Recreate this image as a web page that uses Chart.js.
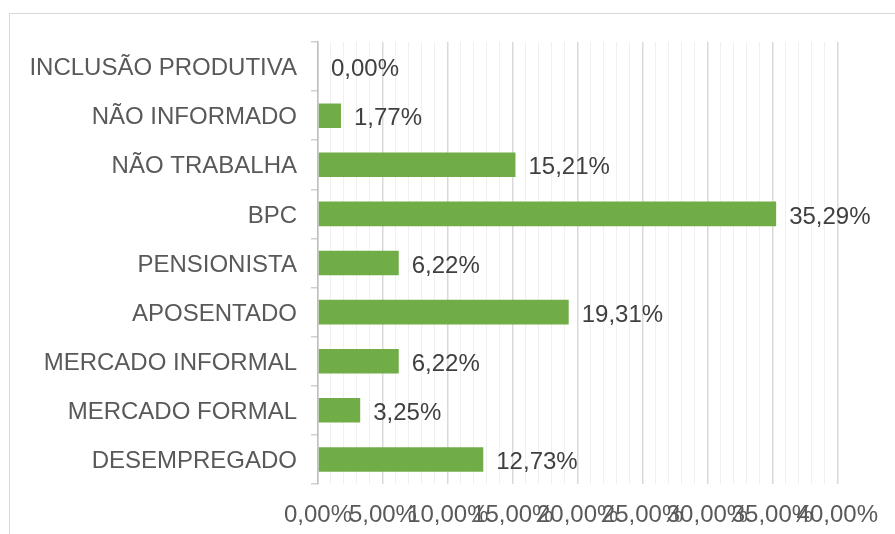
<!DOCTYPE html>
<html>
<head>
<meta charset="utf-8">
<script src="https://cdn.jsdelivr.net/npm/chart.js@4.4.1/dist/chart.umd.min.js"></script>
<style>
  html, body { margin: 0; padding: 0; background: #fff; }
  #wrap { position: relative; width: 895px; height: 534px; overflow: hidden; }
  #frame {
    position: absolute; left: 9px; top: 13px; width: 1000px; height: 1000px;
    border-left: 1.5px solid #d9d9d9; border-top: 1.5px solid #d9d9d9;
  }
  #chart { position: absolute; left: 0; top: 0; }
</style>
</head>
<body>
<div id="wrap">
  <div id="frame"></div>
  <canvas id="chart" width="895" height="534"></canvas>
</div>
<script>
const categorias = [
  "INCLUSÃO PRODUTIVA",
  "NÃO INFORMADO",
  "NÃO TRABALHA",
  "BPC",
  "PENSIONISTA",
  "APOSENTADO",
  "MERCADO INFORMAL",
  "MERCADO FORMAL",
  "DESEMPREGADO",
];
const percentuais = [0.0, 1.77, 15.21, 35.29, 6.22, 19.31, 6.22, 3.25, 12.73];
const eixoMin = 0;
const eixoMax = 40;

const fonte = "'Liberation Sans', Arial, sans-serif";

function formatPct(v) {
  return v.toFixed(2).replace(".", ",") + "%";
}

// writes the value just after the end of each bar
const rotulosBarras = {
  id: "rotulosBarras",
  afterDatasetsDraw(chart) {
    const ctx = chart.ctx;
    const meta = chart.getDatasetMeta(0);
    ctx.save();
    ctx.font = "24px " + fonte;
    ctx.fillStyle = "#404040";
    ctx.textAlign = "left";
    ctx.textBaseline = "middle";
    meta.data.forEach((bar, i) => {
      ctx.fillText(formatPct(percentuais[i]), bar.x + 13, bar.y + 3);
    });
    ctx.restore();
  },
};

const ctxBar = document.getElementById("chart");
new Chart(ctxBar, {
  type: "bar",
  data: {
    labels: categorias,
    datasets: [
      {
        data: percentuais,
        backgroundColor: "#70ad47",
        barPercentage: 0.5,
        categoryPercentage: 1.0,
      },
    ],
  },
  options: {
    indexAxis: "y",
    responsive: false,
    animation: false,
    layout: { padding: { top: 42, right: 55, left: 0, bottom: 0 } },
    plugins: {
      legend: { display: false },
      tooltip: { enabled: false },
    },
    scales: {
      x: {
        min: eixoMin,
        max: eixoMax,
        border: { display: false },
        grid: {
          drawTicks: false,
          color: (c) => (c.tick && c.tick.value % 5 === 0 ? "#d9d9d9" : "#f0f0f0"),
          lineWidth: (c) => (c.tick && c.tick.value % 5 === 0 ? 1.5 : 1),
        },
        ticks: {
          stepSize: 1,
          autoSkip: false,
          maxRotation: 0,
          minRotation: 0,
          padding: 17,
          color: "#595959",
          font: { family: fonte, size: 24 },
          callback: (v) => (v % 5 === 0 ? formatPct(v) : ""),
        },
        afterFit(scale) {
          scale.height = 50;
        },
      },
      y: {
        border: { display: true, color: "#bfbfbf", width: 1.5 },
        grid: {
          drawOnChartArea: false,
          drawTicks: true,
          tickLength: 7,
          color: "#d0d0d0",
          lineWidth: 1.5,
        },
        ticks: {
          padding: 14,
          labelOffset: 2,
          color: "#595959",
          font: { family: fonte, size: 24 },
        },
        afterFit(scale) {
          scale.width = 318;
        },
      },
    },
  },
  plugins: [rotulosBarras],
});
</script>
</body>
</html>
